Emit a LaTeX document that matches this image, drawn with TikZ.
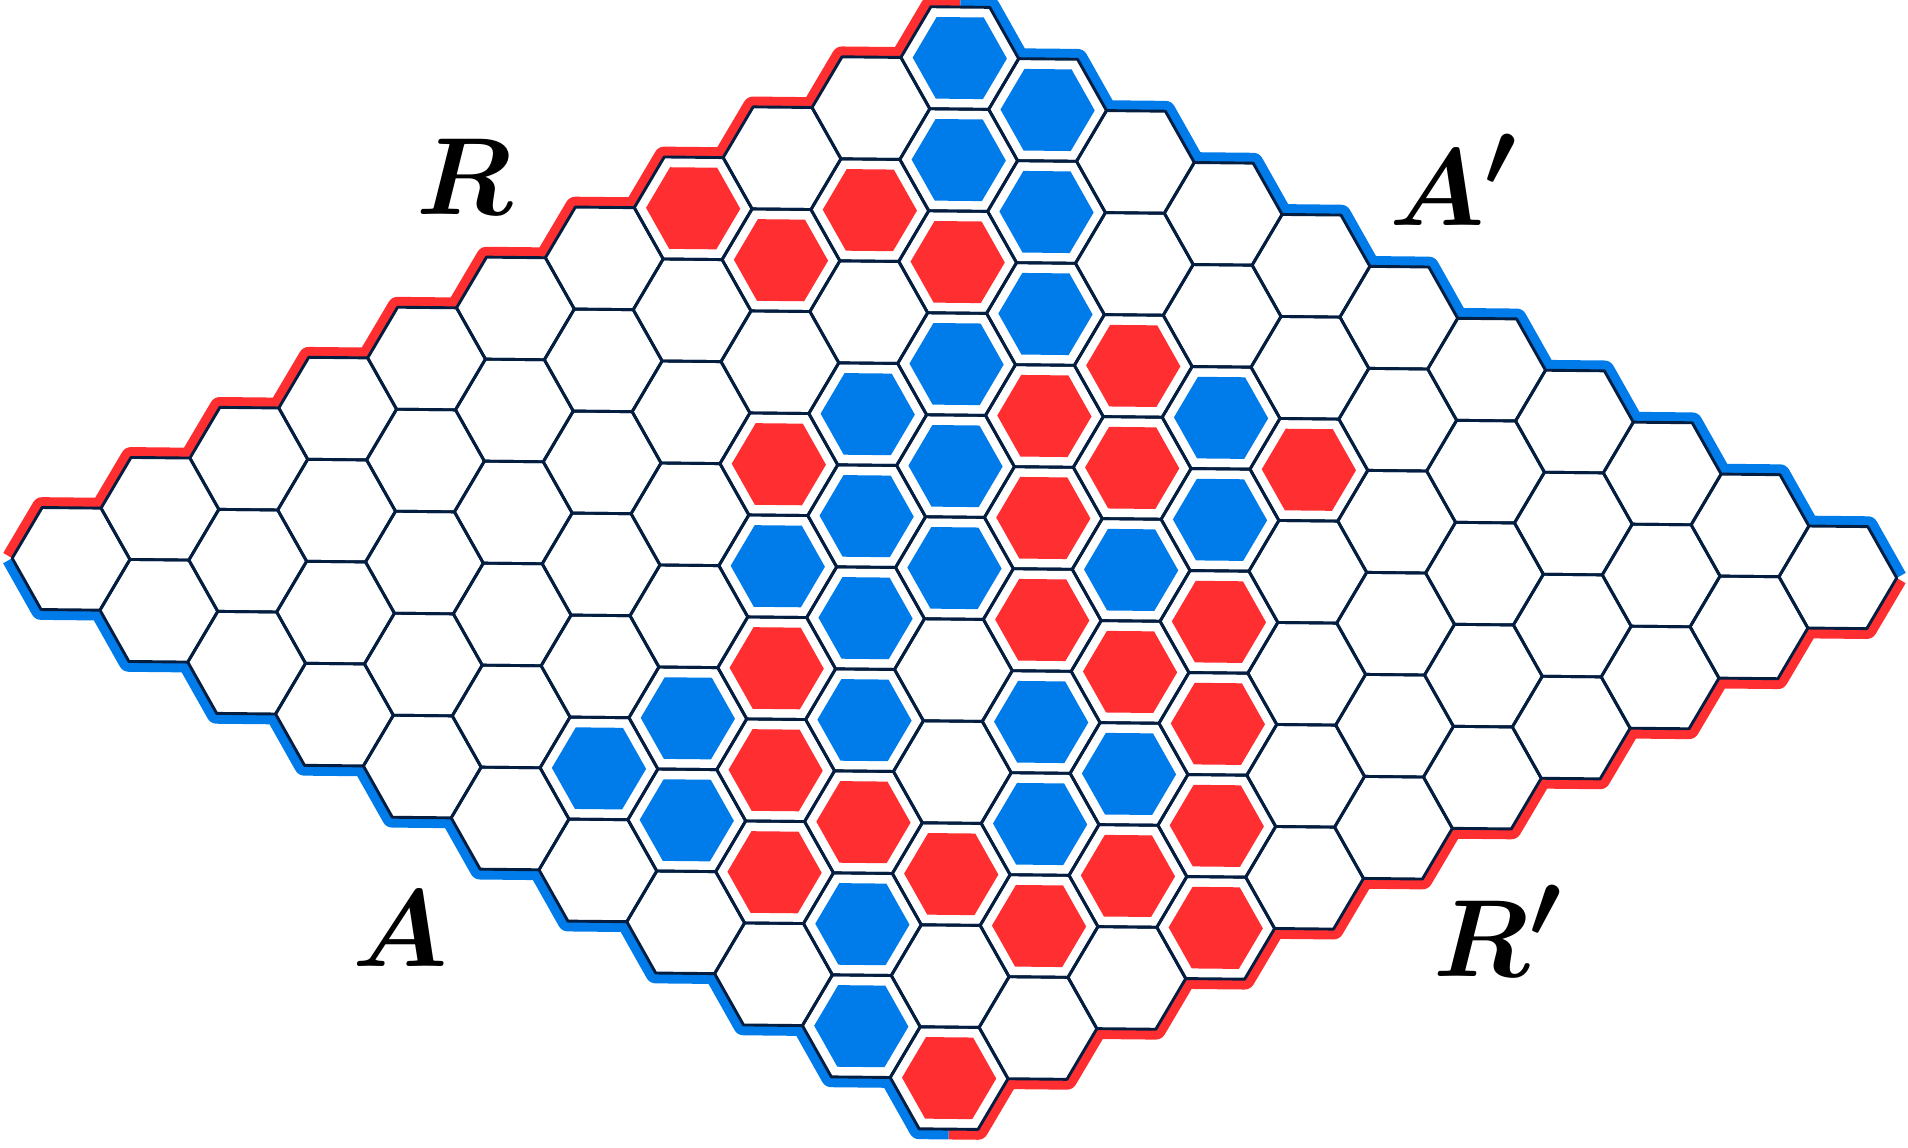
\documentclass[tikz,border=0pt]{standalone}
\usepackage{amsmath}
\definecolor{hexred}{RGB}{255,46,48}
\definecolor{hexblue}{RGB}{0,123,234}
\definecolor{hexnavy}{RGB}{4,30,66}
\usetikzlibrary{calc}
% flat-top hexagon with centre (#1,#2) and radius #3
\newcommand{\hexpath}[3]{(#1+#3,#2) -- ++(120:#3) -- ++(180:#3) -- ++(240:#3) -- ++(300:#3) -- ++(0:#3) -- cycle}
\newcommand{\sidelabel}[1]{\scalebox{2.13}{\Huge$\boldsymbol{#1}$}}

\begin{document}
\begin{tikzpicture}[
  cellline/.style={hexnavy, line width=1.4pt, line join=round},
  sideline/.style={line width=10pt, line join=round},
  lbl/.style={inner sep=0pt}
]
  \useasboundingbox (-1.205,-9.83) rectangle (31.19,9.645);

  \begin{scope}[rotate around={-0.6:(15,0)}]
  % Coloured sides of the board
  \draw[sideline, hexred] (-1,0) \foreach \k in {1,...,10}{ -- ++(60:1) -- ++(1,0) } -- ++(60:1) -- ++(0.5,0);
  \draw[sideline, hexblue] (15,{sqrt(3)*5.5}) -- ++(0.5,0) -- ++(-60:1) \foreach \k in {1,...,10}{ -- ++(1,0) -- ++(-60:1) };
  \draw[sideline, hexred] (31,0) \foreach \k in {1,...,10}{ -- ++(-120:1) -- ++(-1,0) } -- ++(-120:1) -- ++(-0.5,0);
  \draw[sideline, hexblue] (-1,0) \foreach \k in {1,...,10}{ -- ++(-60:1) -- ++(1,0) } -- ++(-60:1) -- ++(0.5,0);

  % Cells
  \foreach \i in {0,...,10}{
    \foreach \j in {0,...,10}{
      \pgfmathsetmacro{\cx}{1.5*(\i+\j)}
      \pgfmathsetmacro{\cy}{sqrt(3)/2*(\i-\j)}
      \fill[white] \hexpath{\cx}{\cy}{1};
    }
  }
  \foreach \i in {0,...,10}{
    \foreach \j in {0,...,10}{
      \pgfmathsetmacro{\cx}{1.5*(\i+\j)}
      \pgfmathsetmacro{\cy}{sqrt(3)/2*(\i-\j)}
      \draw[cellline] \hexpath{\cx}{\cy}{1};
    }
  }

  % Blue stones
  \foreach \i/\j in {10/0,10/1,9/1,9/2,8/3,7/3,6/3,6/4,5/4,5/5,4/4,4/5,8/5,7/6,6/6,2/5,1/5,1/6,3/6,4/7,4/8,3/8,1/8,0/9}{
    \pgfmathsetmacro{\cx}{1.5*(\i+\j)}
    \pgfmathsetmacro{\cy}{sqrt(3)/2*(\i-\j)}
    \fill[hexblue] \hexpath{\cx}{\cy}{0.8};
  }
  % Red stones
  \foreach \i/\j in {7/0,7/1,8/1,8/2,8/4,7/4,7/5,8/6,5/3,6/5,5/6,6/7,5/7,3/5,5/8,2/6,2/7,4/9,1/7,3/9,2/8,2/9,3/10,0/10}{
    \pgfmathsetmacro{\cx}{1.5*(\i+\j)}
    \pgfmathsetmacro{\cy}{sqrt(3)/2*(\i-\j)}
    \fill[hexred] \hexpath{\cx}{\cy}{0.8};
  }
  \end{scope}

  % Side labels
  \node[lbl] (labR) at (6.69,6.64) {\sidelabel{R}};
  \node[lbl] (labAp) at (23.48,6.59) {\sidelabel{A'}};
  \node[lbl] (labA) at (5.59,-6.13) {\sidelabel{A}};
  \node[lbl] (labRp) at (24.23,-6.16) {\sidelabel{R'}};

\end{tikzpicture}
\end{document}
